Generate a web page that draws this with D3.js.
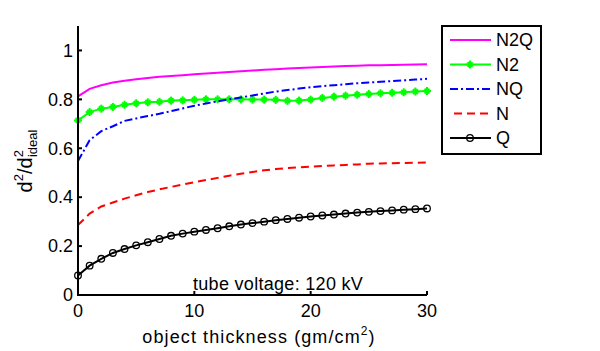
<!DOCTYPE html>
<html><head><meta charset="utf-8">
<script src="https://cdn.jsdelivr.net/npm/d3@7"></script>
<style>body{margin:0;background:#fff}svg text{font-family:"Liberation Sans",Arial,sans-serif}</style>
</head><body><svg id="c" width="600" height="351"></svg>
<script>
const thickness = d3.range(0, 31);
const N2Q = [0.812,0.843,0.858,0.869,0.876,0.882,0.887,0.892,0.896,0.899,0.903,0.906,0.909,0.912,0.915,0.918,0.921,0.923,0.926,0.928,0.930,0.932,0.934,0.936,0.937,0.939,0.940,0.941,0.942,0.943,0.944];
const N2 = [0.714,0.748,0.762,0.769,0.778,0.784,0.788,0.790,0.795,0.796,0.798,0.800,0.800,0.800,0.800,0.799,0.799,0.798,0.794,0.795,0.799,0.806,0.811,0.815,0.819,0.822,0.825,0.827,0.829,0.832,0.834];
const NQ = [0.548,0.633,0.670,0.690,0.712,0.722,0.732,0.741,0.752,0.763,0.774,0.783,0.792,0.800,0.808,0.816,0.824,0.832,0.838,0.844,0.850,0.854,0.858,0.862,0.866,0.869,0.872,0.875,0.878,0.881,0.884];
const N = [0.286,0.333,0.362,0.378,0.394,0.408,0.421,0.432,0.442,0.452,0.461,0.470,0.479,0.488,0.496,0.503,0.510,0.515,0.519,0.522,0.525,0.528,0.530,0.532,0.534,0.537,0.538,0.539,0.540,0.541,0.542];
const Q = [0.080,0.120,0.148,0.172,0.188,0.203,0.216,0.229,0.242,0.251,0.259,0.266,0.273,0.281,0.288,0.294,0.300,0.306,0.311,0.316,0.321,0.325,0.329,0.333,0.337,0.340,0.343,0.346,0.349,0.351,0.354];
const xTicks = [0, 10, 20, 30];
const yTicks = [0, 0.2, 0.4, 0.6, 0.8, 1];
const seriesNames = ["N2Q", "N2", "NQ", "N", "Q"];
const seriesValues = [N2Q, N2, NQ, N, Q];
const seriesColors = ["#ff00ff", "#00ff00", "#0000ff", "#ff0000", "#000000"];
const seriesDash = [null, null, "8,3,2,3", "8,5", null];
const seriesMarker = [null, "star", null, null, "circle"];
const annotation = "tube voltage: 120 kV";

const svg = d3.select("#c");
const x = d3.scaleLinear().domain([0, 30]).range([78, 427]);
const y = d3.scaleLinear().domain([0, 1.1]).range([295, 26]);
const fs = 18;

const line = d3.line().x((d, i) => x(thickness[i])).y(d => y(d));
function drawMarker(g, type, cx, cy, color) {
  if (type === "circle") {
    g.append("circle").attr("cx", cx).attr("cy", cy).attr("r", 3.3)
      .attr("fill", "none").attr("stroke", color).attr("stroke-width", 1.3);
  } else if (type === "star") {
    const r = 4;
    const p = [[0,-r,0,r],[-r,0,r,0],[-r*0.6,-r*0.6,r*0.6,r*0.6],[-r*0.6,r*0.6,r*0.6,-r*0.6]];
    p.forEach(s => g.append("line").attr("x1", cx+s[0]).attr("y1", cy+s[1]).attr("x2", cx+s[2]).attr("y2", cy+s[3])
      .attr("stroke", color).attr("stroke-width", 2));
  }
}
seriesValues.forEach((vals, k) => {
  const g = svg.append("g");
  g.append("path").datum(vals).attr("d", line).attr("fill", "none")
    .attr("stroke", seriesColors[k]).attr("stroke-width", 2)
    .attr("stroke-dasharray", seriesDash[k]);
  if (seriesMarker[k]) vals.forEach((v, i) => drawMarker(g, seriesMarker[k], x(thickness[i]), y(v), seriesColors[k]));
});

// axes
const ax = svg.append("g");
ax.append("line").attr("x1", x(0)).attr("x2", x(0)).attr("y1", y(1.1)).attr("y2", y(0)+1).attr("stroke", "#000").attr("stroke-width", 2);
ax.append("line").attr("x1", x(0)-1).attr("x2", x(30)).attr("y1", y(0)).attr("y2", y(0)).attr("stroke", "#000").attr("stroke-width", 2);
yTicks.forEach(t => {
  ax.append("line").attr("x1", x(0)).attr("x2", x(0)+4).attr("y1", y(t)).attr("y2", y(t)).attr("stroke", "#000").attr("stroke-width", 2);
  ax.append("text").attr("x", 73).attr("y", y(t)).attr("dy", "0.35em").attr("text-anchor", "end")
    .attr("font-size", fs).text(d3.format("")(t));
});
xTicks.forEach(t => {
  ax.append("line").attr("x1", x(t)).attr("x2", x(t)).attr("y1", y(0)).attr("y2", y(0)-4).attr("stroke", "#000").attr("stroke-width", 2);
  ax.append("text").attr("x", x(t)).attr("y", 317).attr("text-anchor", "middle").attr("font-size", fs).text(t);
});

// annotation
svg.append("text").attr("x", 193).attr("y", 290).attr("font-size", fs).attr("letter-spacing", 0.3).text(annotation);

// x label
const xl = svg.append("text").attr("x", 259).attr("y", 343).attr("text-anchor", "middle").attr("font-size", fs).attr("letter-spacing", 1.1);
xl.append("tspan").text("object thickness (gm/cm");
xl.append("tspan").attr("font-size", 12).attr("dy", -8).text("2");
xl.append("tspan").attr("dy", 8).text(")");

// y label
const yl = svg.append("text").attr("transform", "translate(32,161) rotate(-90)").attr("text-anchor", "middle").attr("font-size", 20);
yl.append("tspan").text("d");
yl.append("tspan").attr("font-size", 13).attr("dy", -9).text("2");
yl.append("tspan").attr("dy", 9).text("/d");
yl.append("tspan").attr("font-size", 13).attr("dy", -9).text("2");
yl.append("tspan").attr("font-size", 13).attr("dx", -7).attr("dy", 14).text("ideal");

// legend
const lg = svg.append("g");
lg.append("rect").attr("x", 442).attr("y", 26).attr("width", 99).attr("height", 128)
  .attr("fill", "#fff").attr("stroke", "#000").attr("stroke-width", 2);
const legY = d3.scalePoint().domain(seriesNames).range([40, 138]);
seriesNames.forEach((nm, k) => {
  const yy = legY(nm);
  lg.append("line").attr("x1", seriesDash[k] === "8,5" ? 454 : 450).attr("x2", 491).attr("y1", yy).attr("y2", yy)
    .attr("stroke", seriesColors[k]).attr("stroke-width", 2).attr("stroke-dasharray", seriesDash[k]);
  if (seriesMarker[k]) drawMarker(lg, seriesMarker[k], 470, yy, seriesColors[k]);
  lg.append("text").attr("x", 496).attr("y", yy).attr("dy", "0.35em").attr("font-size", fs).text(nm);
});
</script></body></html>
